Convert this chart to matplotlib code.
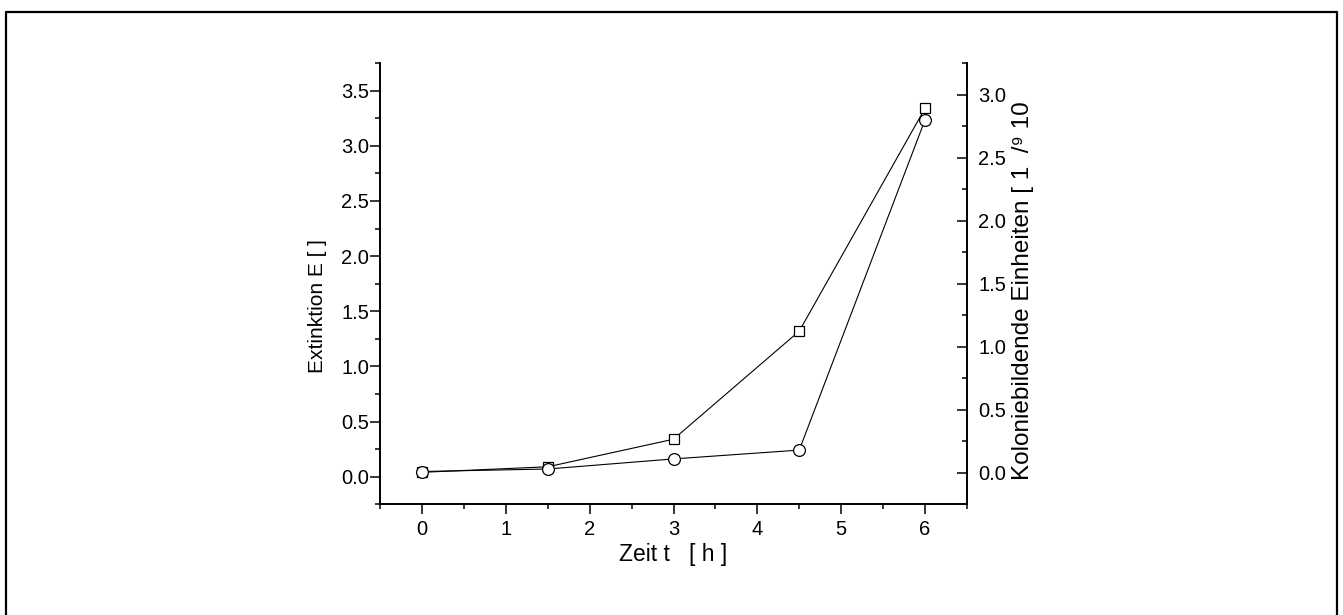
import matplotlib
matplotlib.use('Agg')
import matplotlib.pyplot as plt
from matplotlib.lines import Line2D
from matplotlib.ticker import MultipleLocator
from matplotlib import rcParams
params = {'font.family': ['Liberation Sans', 'DejaVu Sans'], 'font.size': 14}
rcParams.update(params)

# data
zeit = [0, 1.5, 3, 4.5, 6]
extinktion = [0.04, 0.09, 0.34, 1.32, 3.34]   # squares, left axis
kbe = [0.01, 0.03, 0.11, 0.18, 2.80]          # circles, right axis

fig = plt.figure(figsize=(13.43, 6.15), dpi=100)
ax = fig.add_axes([0.283, 0.180, 0.437, 0.7175])
ax2 = ax.twinx()

ax.plot(zeit, extinktion, color='black', lw=0.8, marker='s', ms=7,
        mfc='white', mec='black', mew=0.9, zorder=3)
ax2.plot(zeit, kbe, color='black', lw=0.8, marker='o', ms=8.5,
         mfc='white', mec='black', mew=0.9, zorder=3)

ax.set_xlim(-0.5, 6.5)
ax.set_ylim(-0.25, 3.75)
ax2.set_ylim(-0.25, 3.25)

ax.xaxis.set_major_locator(MultipleLocator(1))
ax.xaxis.set_minor_locator(MultipleLocator(0.5))
ax.yaxis.set_major_locator(MultipleLocator(0.5))
ax.yaxis.set_minor_locator(MultipleLocator(0.25))
ax2.yaxis.set_major_locator(MultipleLocator(0.5))
ax2.yaxis.set_minor_locator(MultipleLocator(0.25))

for a in (ax, ax2):
    a.spines['top'].set_visible(False)
    for s in a.spines.values():
        s.set_linewidth(1.4)

ax.spines['right'].set_visible(False)
ax2.spines['left'].set_visible(False)
ax2.spines['bottom'].set_visible(False)

ax.tick_params(axis='both', which='major', direction='out', length=7, width=1.1, labelsize=14.5)
ax.tick_params(axis='both', which='minor', direction='out', length=3.5, width=1.1)
ax.tick_params(axis='y', pad=1)
ax.tick_params(axis='x', pad=4)
ax2.tick_params(axis='y', which='major', direction='in', length=7, width=1.1, labelsize=14.5, pad=8)
ax2.tick_params(axis='y', which='minor', direction='in', length=3.5, width=1.1)

ax.set_xlabel('Zeit t   [ h ]', fontsize=16.5, labelpad=3)
ax.set_ylabel('Extinktion E [ ]', fontsize=15)
ax.yaxis.set_label_coords(-0.090, 0.45)
ax2.set_ylabel('Koloniebildende Einheiten [ 1  /\u2079 10', fontsize=17.5)
ax2.yaxis.set_label_coords(1.077, 0.484)

# frame round the figure
fig.add_artist(Line2D([0.0045, 0.0045, 0.9955, 0.9955], [0.0, 0.981, 0.981, 0.0],
                      transform=fig.transFigure, color='black', lw=1.6))

plt.savefig('out.png', dpi=100)
